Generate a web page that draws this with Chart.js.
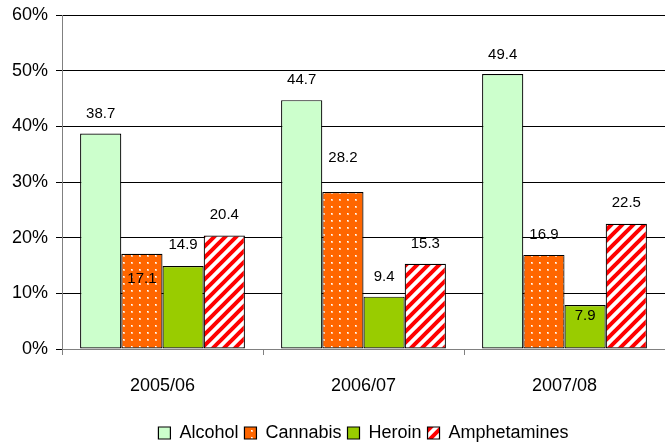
<!DOCTYPE html>
<html>
<head>
<meta charset="utf-8">
<script src="https://cdn.jsdelivr.net/npm/chart.js@4/dist/chart.umd.min.js"></script>
<style>
html,body{margin:0;padding:0;background:#fff;}
#wrap{width:665px;height:445px;}
</style>
</head>
<body>
<div id="wrap"><canvas id="c" width="665" height="445"></canvas></div>
<script>
const categories = ['2005/06', '2006/07', '2007/08'];
const alcohol = [38.7, 44.7, 49.4];
const cannabis = [17.1, 28.2, 16.9];
const heroin = [14.9, 9.4, 7.9];
const amphetamines = [20.4, 15.3, 22.5];
const yTicks = [0, 10, 20, 30, 40, 50, 60];

// label vertical offsets (px, relative to bar top) per series, per category
const labelDy = [
  [-20, -20, -19],
  [25, -34, -20],
  [-21, -20, 11],
  [-21, -20, -21]
];

function dotPattern() {
  const c = document.createElement('canvas');
  c.width = 8; c.height = 7;
  const g = c.getContext('2d');
  g.fillStyle = '#FF6600';
  g.fillRect(0, 0, 8, 7);
  g.fillStyle = '#FFC8A0';
  g.fillRect(3, 3, 2, 2);
  g.fillStyle = '#FFFFFF';
  g.fillRect(3, 3, 1, 1);
  return g.createPattern(c, 'repeat');
}
function stripePattern() {
  const s = 11;
  const c = document.createElement('canvas');
  c.width = s; c.height = s;
  const g = c.getContext('2d');
  g.fillStyle = '#FFFFFF';
  g.fillRect(0, 0, s, s);
  g.strokeStyle = '#FF0000';
  g.lineWidth = 4;
  g.beginPath();
  g.moveTo(-s, 2 * s); g.lineTo(2 * s, -s);
  g.moveTo(-2 * s, 2 * s); g.lineTo(s, -s);
  g.moveTo(0, 2 * s); g.lineTo(3 * s, -s);
  g.stroke();
  return g.createPattern(c, 'repeat');
}

const labelPlugin = {
  id: 'barLabels',
  afterDatasetsDraw(chart) {
    const ctx = chart.ctx;
    ctx.save();
    ctx.font = '15px "Liberation Sans", Arial, sans-serif';
    ctx.fillStyle = '#000';
    ctx.textAlign = 'center';
    ctx.textBaseline = 'middle';
    chart.data.datasets.forEach((ds, i) => {
      const meta = chart.getDatasetMeta(i);
      meta.data.forEach((bar, j) => {
        ctx.fillText(ds.data[j].toFixed(1), bar.x, bar.y + labelDy[i][j]);
      });
    });
    ctx.restore();
  }
};

const font = { family: '"Liberation Sans", Arial, sans-serif', size: 18 };

new Chart(document.getElementById('c'), {
  type: 'bar',
  data: {
    labels: categories,
    datasets: [
      { label: 'Alcohol', data: alcohol, backgroundColor: '#CCFFCC' },
      { label: 'Cannabis', data: cannabis, backgroundColor: dotPattern() },
      { label: 'Heroin', data: heroin, backgroundColor: '#99CC00' },
      { label: 'Amphetamines', data: amphetamines, backgroundColor: stripePattern() }
    ].map(d => Object.assign(d, {
      borderColor: '#000', borderWidth: 1.2, borderSkipped: false,
      categoryPercentage: 0.82, barPercentage: 1
    }))
  },
  options: {
    responsive: false,
    animation: false,
    layout: { padding: { top: 15, right: 0, left: 0, bottom: -7 } },
    plugins: {
      legend: {
        position: 'bottom',
        fullSize: false,
        labels: {
          font: font, color: '#000', boxWidth: 12, boxHeight: 12, padding: 6,
          useBorderRadius: false
        }
      },
      tooltip: { enabled: false }
    },
    scales: {
      x: {
        offset: true,
        grid: { display: true, drawOnChartArea: false, offset: true, tickLength: 6, color: '#808080' },
        border: { color: '#808080', width: 1 },
        ticks: { font: font, color: '#000', padding: 20 },
        afterFit(s) { s.height = 69; s.paddingLeft = 0; s.paddingRight = 0; }
      },
      y: {
        min: 0, max: 60,
        afterBuildTicks(s) { s.ticks = yTicks.map(v => ({ value: v })); },
        grid: { color: '#000', lineWidth: 1, tickLength: 6, drawTicks: true },
        border: { color: '#808080', width: 1 },
        ticks: { font: font, color: '#000', padding: 8, callback: v => v + '%' },
        afterFit(s) { s.width = 62; s.paddingTop = 0; s.paddingBottom = 0; }
      }
    }
  },
  plugins: [labelPlugin]
});
</script>
</body>
</html>
